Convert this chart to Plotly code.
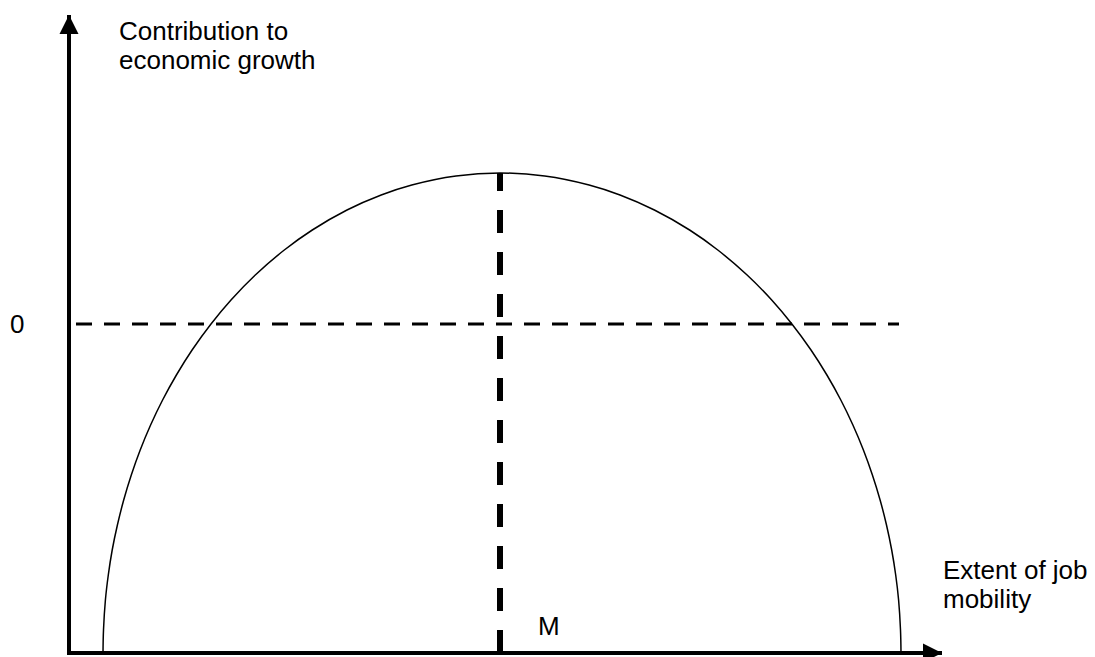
import plotly.graph_objects as go

# units: x = px offset from the vertical axis, y = px above the zero line
axis_x0 = 0
axis_y0 = -329
x_axis_end = 873
y_axis_end = 309

zero_line_x = [7, 830]
zero_line_y = [0, 0]

m_x = [431, 431]
m_y = [-329, 151]

curve_x = [34, 34.5, 36.4, 39.3, 43.2, 48.4, 54.7, 62.3, 71.2, 81.6, 93.6, 107.4, 123.1, 142,
           162, 186.3, 215.3, 243.3, 278, 312.2, 342.8, 387, 431,
           475.7, 520.1, 551, 585.4, 620.6, 648.8, 678.1, 702.7, 722.9, 742, 757.9, 771.8,
           783.9, 794.4, 803.4, 811.1, 817.5, 822.7, 826.7, 829.6, 831.5, 832]
curve_y = [-329, -306, -276, -251, -226, -201, -176, -151, -126, -101, -76, -51, -26, 0,
           24, 49, 74, 94, 114, 129, 139, 148, 151,
           148, 139, 129, 114, 94, 74, 49, 24, 0, -26, -51, -76,
           -101, -126, -151, -176, -201, -226, -251, -276, -306, -329]

fig = go.Figure()

# the curve
fig.add_trace(go.Scatter(x=curve_x, y=curve_y, mode="lines",
                         line=dict(color="black", width=1.5, shape="spline"),
                         hoverinfo="skip"))

# dashed zero line
fig.add_trace(go.Scatter(x=zero_line_x, y=zero_line_y, mode="lines",
                         line=dict(color="black", width=3, dash="16px,12px"),
                         hoverinfo="skip"))

# thick dashed line at M
fig.add_trace(go.Scatter(x=m_x, y=m_y, mode="lines",
                         line=dict(color="black", width=6, dash="23px,19px"),
                         hoverinfo="skip"))

# axes with arrowheads
fig.add_trace(go.Scatter(x=[axis_x0, axis_x0, x_axis_end], y=[y_axis_end, axis_y0, axis_y0],
                         mode="lines", line=dict(color="black", width=4),
                         hoverinfo="skip"))
fig.add_trace(go.Scatter(x=[axis_x0, x_axis_end], y=[y_axis_end, axis_y0], mode="markers",
                         marker=dict(symbol=["arrow-up", "arrow-right"], size=19,
                                     color="black", line=dict(width=0)),
                         hoverinfo="skip"))

txt = dict(family="Liberation Sans, Arial, sans-serif", size=26, color="black")
labels = [
    (48, 293, "left", "Contribution to"),
    (48, 264, "left", "economic growth"),
    (-52, 0, "center", "0"),
    (467, -302, "left", "M"),
    (872, -246, "left", "Extent of job"),
    (872, -275, "left", "mobility"),
]
for lx, ly, anc, t in labels:
    fig.add_annotation(x=lx, y=ly, text=t, showarrow=False,
                       xanchor=anc, yanchor="middle", font=txt)

fig.update_layout(
    width=1095, height=657,
    margin=dict(l=0, r=0, t=0, b=0),
    paper_bgcolor="white", plot_bgcolor="white",
    showlegend=False,
    xaxis=dict(range=[-69, 1026], visible=False, fixedrange=True),
    yaxis=dict(range=[-333, 324], visible=False, fixedrange=True),
)

# drop the default body margin so the figure fills the window exactly
fig.write_html("out.html", config={"displayModeBar": False},
               post_script="document.body.style.margin='0';document.body.style.overflow='hidden';")
